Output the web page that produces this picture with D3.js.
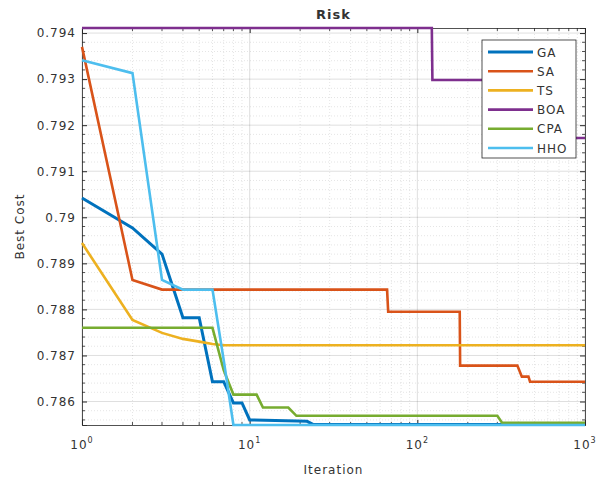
<!DOCTYPE html>
<html><head><meta charset="utf-8">
<script src="https://cdn.jsdelivr.net/npm/d3@7"></script>
<style>
body{margin:0;background:#fff;}
svg text{font-family:"DejaVu Sans",sans-serif;fill:#333;letter-spacing:1px;}
</style></head>
<body><svg id="c" width="609" height="481"></svg>
<script>
// ---- data ----
const seriesNames = ["GA","SA","TS","BOA","CPA","HHO"];
const gaIter  = [1,2,3,4,5,6,7,8,9,10,22,24,1000];
const gaCost  = [0.79042,0.78977,0.78920,0.78782,0.78782,0.78643,0.78643,0.78597,0.78597,0.78560,0.78557,0.78550,0.78550];
const saIter  = [1,2,3,66,67,179,180,395,420,460,470,1000];
const saCost  = [0.79370,0.78864,0.78843,0.78843,0.78795,0.78795,0.78678,0.78678,0.78654,0.78654,0.78643,0.78643];
const tsIter  = [1,2,3,4,5,6,7,1000];
const tsCost  = [0.78944,0.78777,0.78749,0.78736,0.78730,0.78725,0.78722,0.78722];
const boaIter = [1,122,123,840,850,1000];
const boaCost = [0.79411,0.79411,0.79298,0.79298,0.79172,0.79172];
const cpaIter = [1,6,7,8,11,12,17,19,300,320,1000];
const cpaCost = [0.78760,0.78760,0.78668,0.78615,0.78615,0.78587,0.78587,0.78569,0.78569,0.78554,0.78554];
const hhoIter = [1,2,3,4,6,7,8,1000];
const hhoCost = [0.79341,0.79313,0.78864,0.78843,0.78843,0.78690,0.78549,0.78549];
const yTicks = [0.786,0.787,0.788,0.789,0.79,0.791,0.792,0.793,0.794];
const yTickLabels = ["0.786","0.787","0.788","0.789","0.79","0.791","0.792","0.793","0.794"];
const xTicks = [1,10,100,1000];
const xTickExp = ["0","1","2","3"];
const colors = ["#0072BD","#D95319","#EDB120","#7E2F8E","#77AC30","#4DBEEE"];
const titleText = "Risk", xLabel = "Iteration", yLabel = "Best Cost";

const iters = [gaIter,saIter,tsIter,boaIter,cpaIter,hhoIter];
const costs = [gaCost,saCost,tsCost,boaCost,cpaCost,hhoCost];

// ---- layout ----
const L=82, R=585, T=28, B=425;
const svg = d3.select("#c");
const x = d3.scaleLog().domain([1,1000]).range([L,R]);
const y = d3.scaleLinear().domain([0.78549,0.79411]).range([B,T]);

// minor values
const xMinor=[]; for(let d=1; d<1000; d*=10) for(let k=2;k<=9;k++) xMinor.push(k*d);
const yMinor=[]; for(let v=0.7856; v<0.79411; v+=0.0002){ const r=Math.round(v*1e5)/1e5; if(Math.abs(r*1000-Math.round(r*1000))>1e-6) yMinor.push(r);}

const g = svg.append("g");
// minor grid
g.selectAll(".xmg").data(xMinor).join("line").attr("x1",d=>x(d)).attr("x2",d=>x(d)).attr("y1",T).attr("y2",B)
  .attr("stroke","#262626").attr("stroke-opacity",0.12).attr("stroke-dasharray","1,2");
g.selectAll(".ymg").data(yMinor).join("line").attr("y1",d=>y(d)).attr("y2",d=>y(d)).attr("x1",L).attr("x2",R)
  .attr("stroke","#262626").attr("stroke-opacity",0.12).attr("stroke-dasharray","1,2");
// major grid
g.selectAll(".xg").data(xTicks).join("line").attr("x1",d=>x(d)).attr("x2",d=>x(d)).attr("y1",T).attr("y2",B)
  .attr("stroke","#262626").attr("stroke-opacity",0.15);
g.selectAll(".yg").data(yTicks).join("line").attr("y1",d=>y(d)).attr("y2",d=>y(d)).attr("x1",L).attr("x2",R)
  .attr("stroke","#262626").attr("stroke-opacity",0.15);

// axes
const axL = d3.axisLeft(y).tickValues(yTicks).tickFormat((d,i)=>yTickLabels[i]).tickSize(-5).tickPadding(6);
const axR = d3.axisRight(y).tickValues(yTicks).tickFormat("").tickSize(-5);
const axB = d3.axisBottom(x).tickValues(xTicks).tickFormat("").tickSize(-5);
const axT = d3.axisTop(x).tickValues(xTicks).tickFormat("").tickSize(-5);
const gl = svg.append("g").attr("transform",`translate(${L},0)`).call(axL);
svg.append("g").attr("transform",`translate(${R},0)`).call(axR);
const gb = svg.append("g").attr("transform",`translate(0,${B})`).call(axB);
svg.append("g").attr("transform",`translate(0,${T})`).call(axT);
// minor ticks
const mt = svg.append("g").attr("stroke","#262626").attr("stroke-width",0.8);
yMinor.forEach(v=>{ mt.append("line").attr("x1",L).attr("x2",L+3).attr("y1",y(v)).attr("y2",y(v));
                    mt.append("line").attr("x1",R).attr("x2",R-3).attr("y1",y(v)).attr("y2",y(v)); });
xMinor.forEach(v=>{ mt.append("line").attr("y1",B).attr("y2",B-3).attr("x1",x(v)).attr("x2",x(v));
                    mt.append("line").attr("y1",T).attr("y2",T+3).attr("x1",x(v)).attr("x2",x(v)); });
svg.selectAll(".domain").attr("stroke","#262626").attr("stroke-width",0.8);
svg.selectAll(".tick line").attr("stroke","#262626");
gl.selectAll("text").attr("font-size",12).attr("font-family","DejaVu Sans").attr("fill","#404040");

// x tick labels 10^k
const xl = svg.append("g");
xTicks.forEach((v,i)=>{
  const t = xl.append("text").attr("x",x(v)).attr("y",B+24).attr("text-anchor","middle").attr("font-size",12).attr("fill","#404040");
  t.append("tspan").text("10");
  t.append("tspan").attr("dy",-6).attr("font-size",8).text(xTickExp[i]);
});

// lines
const line = d3.line().x(d=>x(d[0])).y(d=>y(d[1]));
seriesNames.forEach((n,i)=>{
  const pts = iters[i].map((it,j)=>[it,costs[i][j]]);
  svg.append("path").datum(pts).attr("d",line).attr("fill","none")
    .attr("stroke",colors[i]).attr("stroke-width",i===0?3:2.6).attr("stroke-linejoin","miter");
});

// title & labels
svg.append("text").attr("x",(L+R)/2).attr("y",19).attr("text-anchor","middle").attr("font-size",13).attr("font-weight","bold").attr("fill","#222").text(titleText);
svg.append("text").attr("x",(L+R)/2).attr("y",474).attr("text-anchor","middle").attr("font-size",12).attr("fill","#404040").text(xLabel);
svg.append("text").attr("transform",`translate(24,${(T+B)/2}) rotate(-90)`).attr("text-anchor","middle").attr("font-size",12).attr("fill","#404040").text(yLabel);

// legend
const lg = svg.append("g");
lg.append("rect").attr("x",482).attr("y",40).attr("width",94).attr("height",118).attr("fill","#fff").attr("stroke","#262626").attr("stroke-width",0.8);
seriesNames.forEach((n,i)=>{
  const yy = 52 + i*19.2;
  lg.append("line").attr("x1",488).attr("x2",533).attr("y1",yy).attr("y2",yy).attr("stroke",colors[i]).attr("stroke-width",i===0?3:2.6);
  lg.append("text").attr("x",537).attr("y",yy+4.5).attr("font-size",12).attr("fill","#333").text(n);
});
</script></body></html>
